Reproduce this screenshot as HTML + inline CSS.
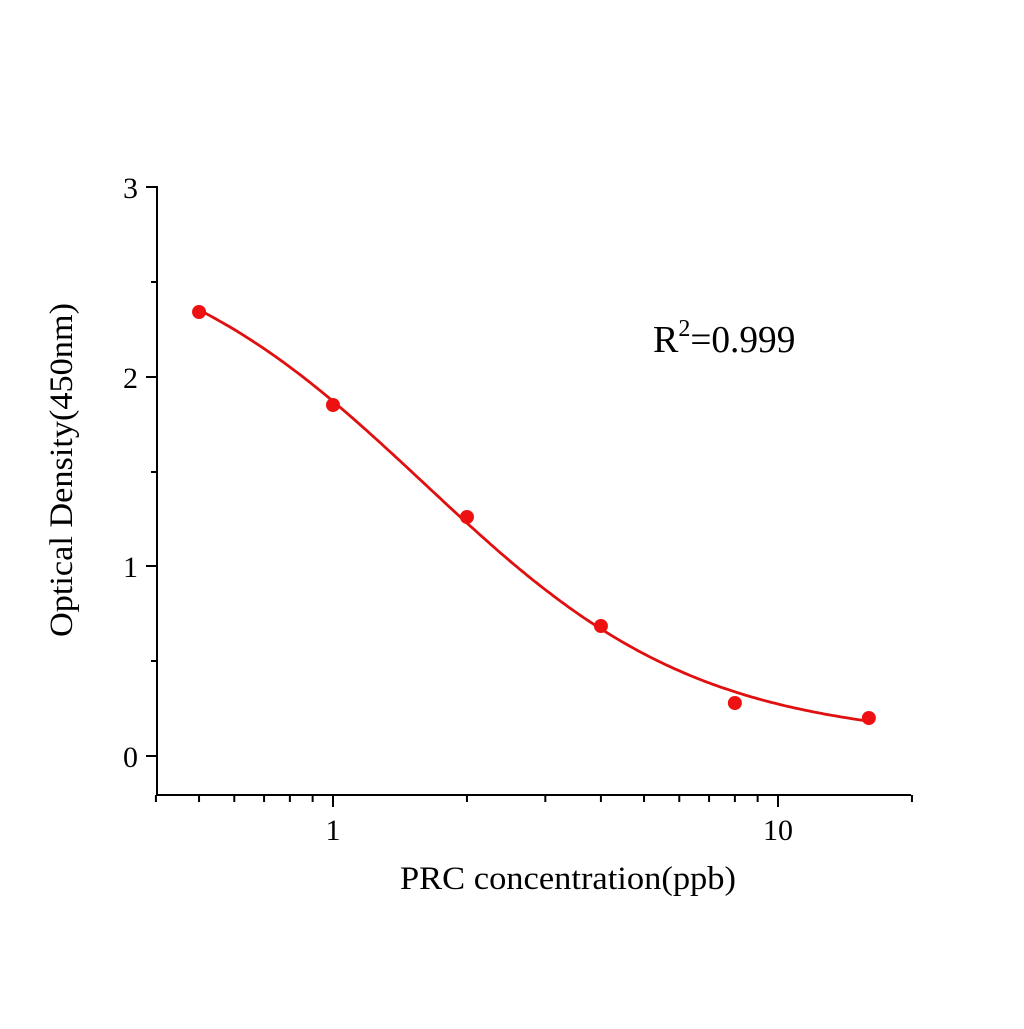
<!DOCTYPE html>
<html><head><meta charset="utf-8"><style>
html,body{margin:0;padding:0;background:#fff;}
svg text{font-family:"Liberation Serif",serif;fill:#000;}
</style></head><body>
<svg id="s" width="1024" height="1024" viewBox="0 0 1024 1024" xmlns="http://www.w3.org/2000/svg">
<rect width="1024" height="1024" fill="#fff"/>
<g stroke="#000" stroke-width="2" fill="none">
<line x1="157" y1="186" x2="157" y2="795"/>
<line x1="156" y1="795" x2="911" y2="795"/>
<line x1="146" y1="187" x2="157" y2="187"/>
<line x1="146" y1="377" x2="157" y2="377"/>
<line x1="146" y1="566" x2="157" y2="566"/>
<line x1="146" y1="756" x2="157" y2="756"/>
<line x1="151" y1="282" x2="157" y2="282"/>
<line x1="151" y1="472" x2="157" y2="472"/>
<line x1="151" y1="661" x2="157" y2="661"/>
<g id="xt"></g>
</g>
<g font-size="30" text-anchor="end">
<text x="138" y="198" textLength="15" lengthAdjust="spacingAndGlyphs">3</text>
<text x="138" y="388" textLength="15" lengthAdjust="spacingAndGlyphs">2</text>
<text x="138" y="577" textLength="15" lengthAdjust="spacingAndGlyphs">1</text>
<text x="138" y="767" textLength="15" lengthAdjust="spacingAndGlyphs">0</text>
</g>
<g font-size="30" text-anchor="middle">
<text x="333" y="840" textLength="15" lengthAdjust="spacingAndGlyphs">1</text>
<text x="778" y="840" textLength="30" lengthAdjust="spacingAndGlyphs">10</text>
</g>
<text x="568" y="889" font-size="33" text-anchor="middle" textLength="336" lengthAdjust="spacingAndGlyphs">PRC concentration(ppb)</text>
<text transform="translate(72,470) rotate(-90)" font-size="33" text-anchor="middle" textLength="334" lengthAdjust="spacingAndGlyphs">Optical Density(450nm)</text>
<text x="653" y="352" font-size="38">R<tspan font-size="24" dy="-16">2</tspan><tspan dy="16" textLength="105" lengthAdjust="spacingAndGlyphs">=0.999</tspan></text>
<path id="curve" fill="none" stroke="#e01010" stroke-width="2.8"/>
<g id="pts" fill="#ee1111"></g>
</svg>
<script>
var X=function(v){return 333+445*Math.log10(v);};
var Y=function(v){return 756-189.5*v;};
var xt=document.getElementById('xt'),h='';
var ticks=[0.4,0.5,0.6,0.7,0.8,0.9,1,2,3,4,5,6,7,8,9,10,20];
ticks.forEach(function(t){var L=(t==1||t==10)?12:7;var x=X(t);h+='<line x1="'+x+'" y1="795" x2="'+x+'" y2="'+(795+L)+'"/>';});
xt.innerHTML=h;
var f=function(x){return 0.08+2.72/(1+Math.pow(x/1.6,1.4));};
var d='';for(var i=0;i<=200;i++){var lx=Math.log10(0.5)+(Math.log10(16)-Math.log10(0.5))*i/200;var x=Math.pow(10,lx);d+=(i?'L':'M')+X(x).toFixed(1)+' '+Y(f(x)).toFixed(1);}
document.getElementById('curve').setAttribute('d',d);
var P=[[0.5,312],[1,405],[2,517],[4,626],[8,703],[16,718]],p='';
P.forEach(function(q){p+='<circle cx="'+X(q[0])+'" cy="'+q[1]+'" r="7"/>';});
document.getElementById('pts').innerHTML=p;
</script>
</body></html>
